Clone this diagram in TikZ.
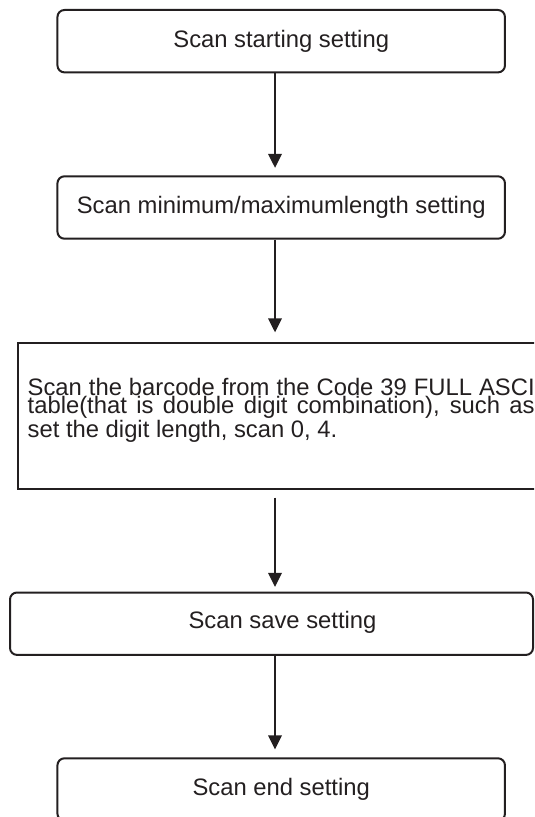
\documentclass[tikz,border=0pt]{standalone}
\usepackage{fontspec}
\setmainfont{Liberation Sans}
\usetikzlibrary{arrows.meta,calc}
\definecolor{ink}{RGB}{35,31,32}
\newcommand\tightlines{\baselineskip=9.2pt\lineskiplimit=-20pt\relax}
\tikzset{
  arr/.style={-{Triangle[length=7pt,width=6.8pt]},line width=.75pt,draw=ink},
  steptext/.style={inner sep=0pt,text=ink,font=\fontsize{11.9}{14}\selectfont},
  stepbox/.style={steptext,draw=ink,line width=1pt,rounded corners=3.5pt,minimum height=31.2pt},
  wide/.style={minimum width=223.75pt},
  plainbox/.style={draw=ink,line width=1pt,inner sep=0pt},
  para/.style={inner sep=0pt,text width=253.5pt,align=justify,text=ink,font=\fontsize{11.9}{9.2}\selectfont}
}
\begin{document}
\begin{tikzpicture}[x=.5pt,y=-.5pt]
  \useasboundingbox (0,0) rectangle (534,817);
  \clip (0,0) rectangle (534,817);
  \coordinate (lane) at (275,0);

  \node[stepbox,wide] (b1) at (281.2,41.2) {Scan starting setting};
  \node[stepbox,wide] (b2) at (281.2,207.5) {Scan minimum/maximumlength setting};

  \node[plainbox,minimum width=262.9pt,minimum height=72.6pt] (b3) at (281.2,415.9) {};
  \node[para,anchor=north west] (t3) at (27.3,377.6)
    {\tightlines Scan the barcode from the Code 39 FULL ASCI\linebreak
     table(that is double digit combination), such as\linebreak
     set the digit length, scan 0, 4.};

  \node[stepbox,minimum width=261.5pt] (b4) at (271.5,623.7) {};
  \node[steptext] (t4) at (282.5,622.5) {Scan save setting};

  \node[stepbox,wide] (b5) at (281.2,789.5) {Scan end setting};

  % connectors
  \draw[arr,shorten >=3.75pt] (b1.south -| lane) -- (b2.north -| lane);
  \draw[arr,shorten >=5pt] (b2.south -| lane) -- (b3.north -| lane);
  \draw[arr,shorten <=4pt,shorten >=2.35pt] (b3.south -| lane) -- (b4.north -| lane);
  \draw[arr,shorten >=4pt] (b4.south -| lane) -- (b5.north -| lane);
\end{tikzpicture}
\end{document}
